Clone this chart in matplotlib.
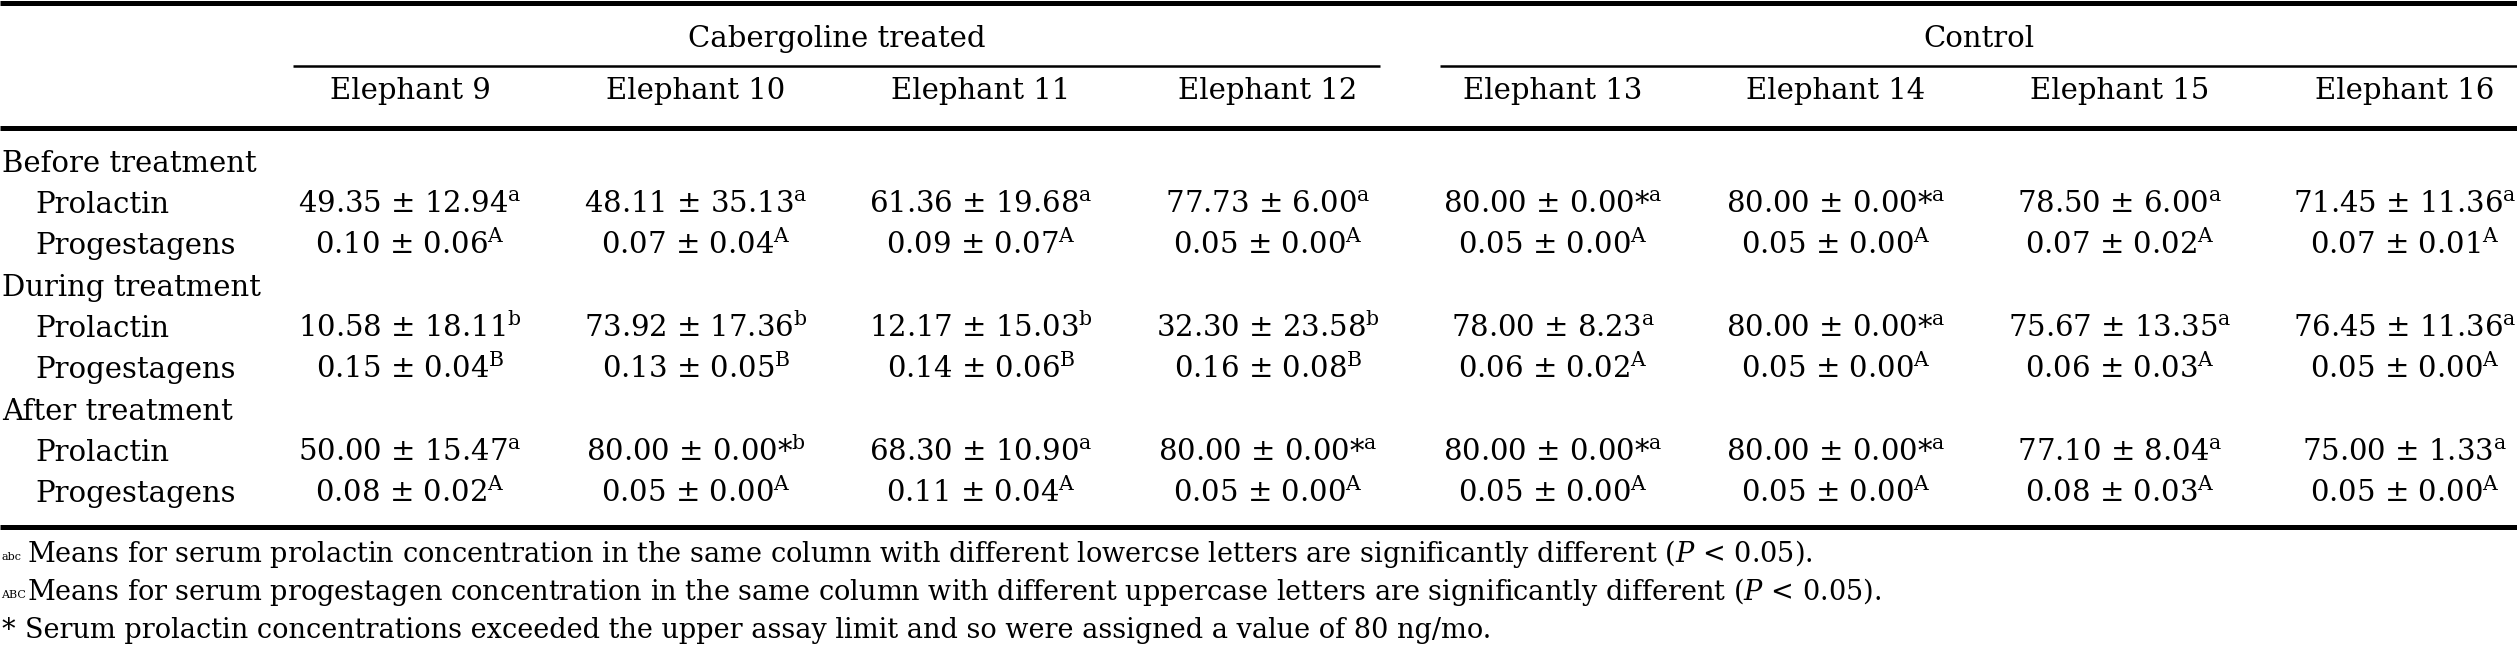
import matplotlib
matplotlib.use("Agg")
import matplotlib.pyplot as plt

# ---------------- data ----------------
groups = ["Cabergoline treated", "Control"]
elephants = ["Elephant 9", "Elephant 10", "Elephant 11", "Elephant 12",
             "Elephant 13", "Elephant 14", "Elephant 15", "Elephant 16"]
phases = ["Before treatment", "During treatment", "After treatment"]
hormones = ["Prolactin", "Progestagens"]

prl_before_mean = [49.35, 48.11, 61.36, 77.73, 80.00, 80.00, 78.50, 71.45]
prl_before_sd = [12.94, 35.13, 19.68, 6.00, 0.00, 0.00, 6.00, 11.36]
prl_before_let = ["a", "a", "a", "a", "a", "a", "a", "a"]
prl_before_star = [0, 0, 0, 0, 1, 1, 0, 0]

prl_during_mean = [10.58, 73.92, 12.17, 32.30, 78.00, 80.00, 75.67, 76.45]
prl_during_sd = [18.11, 17.36, 15.03, 23.58, 8.23, 0.00, 13.35, 11.36]
prl_during_let = ["b", "b", "b", "b", "a", "a", "a", "a"]
prl_during_star = [0, 0, 0, 0, 0, 1, 0, 0]

prl_after_mean = [50.00, 80.00, 68.30, 80.00, 80.00, 80.00, 77.10, 75.00]
prl_after_sd = [15.47, 0.00, 10.90, 0.00, 0.00, 0.00, 8.04, 1.33]
prl_after_let = ["a", "b", "a", "a", "a", "a", "a", "a"]
prl_after_star = [0, 1, 0, 1, 1, 1, 0, 0]

prg_before_mean = [0.10, 0.07, 0.09, 0.05, 0.05, 0.05, 0.07, 0.07]
prg_before_sd = [0.06, 0.04, 0.07, 0.00, 0.00, 0.00, 0.02, 0.01]
prg_before_let = ["A", "A", "A", "A", "A", "A", "A", "A"]

prg_during_mean = [0.15, 0.13, 0.14, 0.16, 0.06, 0.05, 0.06, 0.05]
prg_during_sd = [0.04, 0.05, 0.06, 0.08, 0.02, 0.00, 0.03, 0.00]
prg_during_let = ["B", "B", "B", "B", "A", "A", "A", "A"]

prg_after_mean = [0.08, 0.05, 0.11, 0.05, 0.05, 0.05, 0.08, 0.05]
prg_after_sd = [0.02, 0.00, 0.04, 0.00, 0.00, 0.00, 0.03, 0.00]
prg_after_let = ["A", "A", "A", "A", "A", "A", "A", "A"]

footnote_marks = ["abc", "ABC", "*"]
footnotes = [
    "Means for serum prolactin concentration in the same column with different "
    "lowercse letters are significantly different ($\\mathit{P}$ < 0.05).",
    "Means for serum progestagen concentration in the same column with different "
    "uppercase letters are significantly different ($\\mathit{P}$ < 0.05).",
    "Serum prolactin concentrations exceeded the upper assay limit and so were "
    "assigned a value of 80 ng/mo.",
]

# ---------------- layout ----------------
W, H = 2517, 652
plt.rcParams["font.family"] = ["DejaVu Serif"]
plt.rcParams["mathtext.fontset"] = "dejavuserif"
fig = plt.figure(figsize=(W / 100, H / 100), dpi=100)
ax = fig.add_axes([0, 0, 1, 1])
ax.set_xlim(0, W)
ax.set_ylim(H, 0)
ax.axis("off")

FS = 21
FFS = 19.5
col_x = [410, 696, 981, 1268, 1553, 1836, 2120, 2405]
group_span = [(293, 1380), (1440, W)]

# rules
ax.hlines([2.5], 0, W, color="black", lw=3.6)
ax.hlines([127.5], 0, W, color="black", lw=3.6)
ax.hlines([526.5], 0, W, color="black", lw=3.6)
for (x0, x1) in group_span:
    ax.hlines([66], x0, x1, color="black", lw=1.8)

# group headers
for g, (x0, x1) in zip(groups, group_span):
    ax.text((x0 + x1) / 2, 47, g, ha="center", va="baseline", fontsize=FS)

# column headers
for e, x in zip(elephants, col_x):
    ax.text(x, 99, e, ha="center", va="baseline", fontsize=FS)


def cell(m, s, let, star, fmt):
    txt = f"{m:{fmt}} \u00b1 {s:{fmt}}"
    if star:
        txt += "*"
    return txt + "$^{\\mathrm{" + let + "}}$"


prl = [(prl_before_mean, prl_before_sd, prl_before_let, prl_before_star),
       (prl_during_mean, prl_during_sd, prl_during_let, prl_during_star),
       (prl_after_mean, prl_after_sd, prl_after_let, prl_after_star)]
prg = [(prg_before_mean, prg_before_sd, prg_before_let),
       (prg_during_mean, prg_during_sd, prg_during_let),
       (prg_after_mean, prg_after_sd, prg_after_let)]

row_y0 = 172
row_dy = 41.25
for i, ph in enumerate(phases):
    y_ph = row_y0 + row_dy * 3 * i
    ax.text(2, y_ph, ph, ha="left", va="baseline", fontsize=FS)
    y1 = y_ph + row_dy
    y2 = y_ph + 2 * row_dy
    ax.text(35, y1, hormones[0], ha="left", va="baseline", fontsize=FS)
    ax.text(35, y2, hormones[1], ha="left", va="baseline", fontsize=FS)
    pm, ps, pl, pst = prl[i]
    gm, gs, gl = prg[i]
    for j, x in enumerate(col_x):
        ax.text(x, y1, cell(pm[j], ps[j], pl[j], pst[j], ".2f"),
                ha="center", va="baseline", fontsize=FS)
        ax.text(x, y2, cell(gm[j], gs[j], gl[j], 0, ".2f"),
                ha="center", va="baseline", fontsize=FS)

# footnotes
foot_y = [562, 600, 638]
for mk, ft, y in zip(footnote_marks, footnotes, foot_y):
    if mk == "*":
        ax.text(2, y, mk, ha="left", va="baseline", fontsize=FFS)
        ax.text(25, y, ft, ha="left", va="baseline", fontsize=FFS)
    else:
        ax.text(1, y - 2, mk, ha="left", va="baseline", fontsize=8)
        ax.text(27, y, ft, ha="left", va="baseline", fontsize=FFS)

fig.savefig("out.png", dpi=100)
